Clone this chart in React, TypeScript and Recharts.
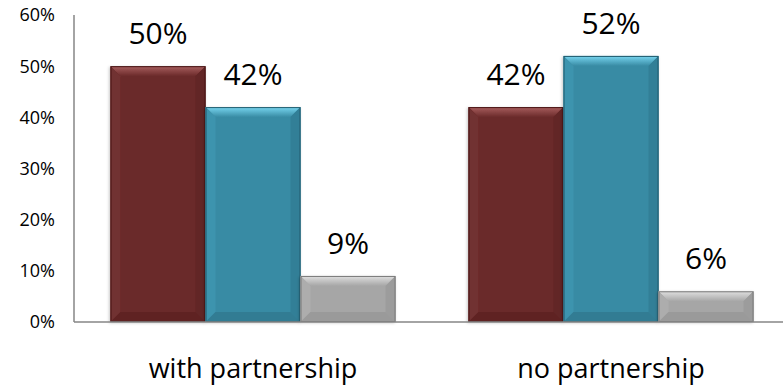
import React from 'react';
import { Bar, BarChart, LabelList, XAxis, YAxis } from 'recharts';

const categories = ['with partnership', 'no partnership'];
const seriesRed = [50, 42];
const seriesBlue = [42, 52];
const seriesGray = [9, 6];
const yTicks = [0, 10, 20, 30, 40, 50, 60];

const FONT = '"Open Sans", sans-serif';

const data = categories.map((name, i) => ({
  name,
  red: seriesRed[i],
  blue: seriesBlue[i],
  gray: seriesGray[i],
}));

interface Palette {
  base: string;
  top: string;
  left: string;
  right: string;
  bottom: string;
  edge: string;
}

const palettes: Record<string, Palette> = {
  red: {
    base: '#6a2a2a',
    top: '#a85e5e',
    left: '#713030',
    right: '#622626',
    bottom: '#5f2424',
    edge: '#4a1a1a',
  },
  blue: {
    base: '#388ba4',
    top: '#78d6f0',
    left: '#3d94ae',
    right: '#327f97',
    bottom: '#317c93',
    edge: '#225c6e',
  },
  gray: {
    base: '#a6a6a6',
    top: '#e0e0e0',
    left: '#adadad',
    right: '#9c9c9c',
    bottom: '#9a9a9a',
    edge: '#7a7a7a',
  },
};

function bevelShape(key: string) {
  const p = palettes[key];
  return (props: any) => {
    const { x, y, width: w, height: h } = props;
    if (!h || h <= 0) return <g />;
    const b = Math.min(10, h / 2, w / 2);
    return (
      <g filter="url(#barShadow)">
        <rect x={x} y={y} width={w} height={h} fill={p.base} />
        <polygon
          points={`${x},${y} ${x + w},${y} ${x + w - b},${y + b} ${x + b},${y + b}`}
          fill={`url(#top-${key})`}
        />
        <polygon
          points={`${x},${y} ${x + b},${y + b} ${x + b},${y + h - b} ${x},${y + h}`}
          fill={p.left}
        />
        <polygon
          points={`${x + w},${y} ${x + w},${y + h} ${x + w - b},${y + h - b} ${x + w - b},${y + b}`}
          fill={p.right}
        />
        <polygon
          points={`${x},${y + h} ${x + b},${y + h - b} ${x + w - b},${y + h - b} ${x + w},${y + h}`}
          fill={p.bottom}
        />
        <rect
          x={x + 0.5}
          y={y + 0.5}
          width={w - 1}
          height={h - 1}
          fill="none"
          stroke={p.edge}
          strokeWidth={1}
        />
      </g>
    );
  };
}

const labelStyle = { fill: '#000', fontSize: 30, fontFamily: FONT };

export default function App() {
  return (
    <div
      style={{
        position: 'absolute',
        left: 0,
        top: 0,
        width: 783,
        height: 389,
        overflow: 'hidden',
        background: '#fff',
      }}
    >
      <BarChart
        width={790}
        height={389}
        data={data}
        margin={{ top: 15, right: 0, bottom: 0, left: 0 }}
        barCategoryGap="10.2%"
        barGap={0}
      >
        <defs>
          {Object.keys(palettes).map((k) => (
            <linearGradient key={k} id={`top-${k}`} x1="0" y1="0" x2="0" y2="1">
              <stop offset="0%" stopColor={palettes[k].top} />
              <stop offset="100%" stopColor={palettes[k].base} />
            </linearGradient>
          ))}
          <filter id="barShadow" x="-10%" y="-10%" width="120%" height="120%">
            <feDropShadow dx="-1" dy="1" stdDeviation="1.5" floodColor="#000" floodOpacity={0.22} />
          </filter>
        </defs>
        <XAxis
          dataKey="name"
          height={67}
          tickLine={false}
          tickSize={0}
          tickMargin={37}
          axisLine={{ stroke: '#868686', strokeWidth: 1.5 }}
          tick={{ fill: '#000', fontSize: 27, fontFamily: FONT }}
        />
        <YAxis
          width={74}
          domain={[0, 60]}
          ticks={yTicks}
          interval={0}
          tickFormatter={(v: number) => `${v}%`}
          tickLine={false}
          tickSize={0}
          tickMargin={19}
          axisLine={{ stroke: '#868686', strokeWidth: 1.5 }}
          tick={{ fill: '#000', fontSize: 18, fontFamily: FONT }}
        />
        <Bar dataKey="red" isAnimationActive={false} shape={bevelShape('red')}>
          <LabelList dataKey="red" position="top" offset={22} formatter={(v: any) => `${v}%`} style={labelStyle} />
        </Bar>
        <Bar dataKey="blue" isAnimationActive={false} shape={bevelShape('blue')}>
          <LabelList dataKey="blue" position="top" offset={22} formatter={(v: any) => `${v}%`} style={labelStyle} />
        </Bar>
        <Bar dataKey="gray" isAnimationActive={false} shape={bevelShape('gray')}>
          <LabelList dataKey="gray" position="top" offset={22} formatter={(v: any) => `${v}%`} style={labelStyle} />
        </Bar>
      </BarChart>
    </div>
  );
}
